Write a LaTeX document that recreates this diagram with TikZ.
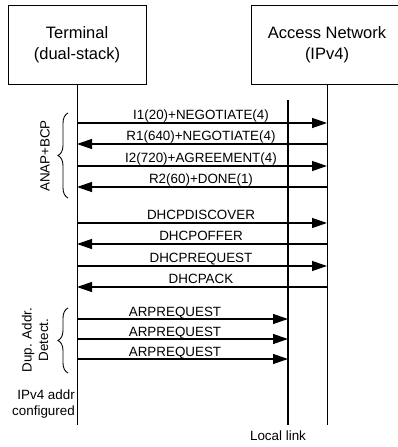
\documentclass[tikz,border=0pt]{standalone}
\usepackage{fontspec}
\setmainfont{Liberation Sans}
\usetikzlibrary{arrows.meta,decorations.pathreplacing}
\begin{document}
\begin{tikzpicture}[x=1pt,y=-1pt,
 box/.style={draw,line width=0.9pt,minimum width=138pt,minimum height=79pt,inner sep=0pt,align=center,font=\fontsize{16.5}{21}\selectfont},
 life/.style={line width=0.9pt},
 loclink/.style={line width=1.6pt},
 msg/.style={line width=1.3pt,-{Triangle[length=15pt,width=10pt]}},
 lbl/.style={anchor=base,font=\fontsize{13.4}{16}\selectfont,inner sep=0pt},
 side/.style={font=\fontsize{13.4}{16.5}\selectfont,align=center,inner sep=0pt},
 brc/.style={decorate,decoration={brace,amplitude=10pt},line width=0.9pt}
]
\useasboundingbox (0,0) rectangle (398,447);
\node[box] (term) at (77,44.5) {Terminal\\(dual-stack)};
\node[box,minimum width=152pt] (acc) at (327,44.5) {Access Network\\(IPv4)};
% lifelines
\coordinate (tend) at (77,425);
\coordinate (aend) at (327,425);
\coordinate (ltop) at (288,100);
\coordinate (lbot) at (288,425);
\draw[life] (term.south) -- (tend);
\draw[life] (acc.south) -- (aend);
\draw[loclink] (ltop) -- (lbot);
\node[lbl] (loclbl) at (278,440) {Local link};
% ANAP+BCP
\coordinate (t1) at (77,123); \coordinate (a1) at (327,123);
\coordinate (t2) at (77,144); \coordinate (a2) at (327,144);
\coordinate (t3) at (77,166); \coordinate (a3) at (327,166);
\coordinate (t4) at (77,187); \coordinate (a4) at (327,187);
\draw[msg] (t1) -- (a1);
\draw[msg] (a2) -- (t2);
\draw[msg] (t3) -- (a3);
\draw[msg] (a4) -- (t4);
\node[lbl] (m1) at (201,119) {I1(20)+NEGOTIATE(4)};
\node[lbl] (m2) at (201,140) {R1(640)+NEGOTIATE(4)};
\node[lbl] (m3) at (201,162) {I2(720)+AGREEMENT(4)};
\node[lbl] (m4) at (201,183) {R2(60)+DONE(1)};
% DHCP
\coordinate (t5) at (77,223); \coordinate (a5) at (327,223);
\coordinate (t6) at (77,244); \coordinate (a6) at (327,244);
\coordinate (t7) at (77,266); \coordinate (a7) at (327,266);
\coordinate (t8) at (77,287); \coordinate (a8) at (327,287);
\draw[msg] (t5) -- (a5);
\draw[msg] (a6) -- (t6);
\draw[msg] (t7) -- (a7);
\draw[msg] (a8) -- (t8);
\node[lbl] (m5) at (201,219) {DHCPDISCOVER};
\node[lbl] (m6) at (201,240) {DHCPOFFER};
\node[lbl] (m7) at (201,262) {DHCPREQUEST};
\node[lbl] (m8) at (201,283) {DHCPACK};
% ARP
\coordinate (t9) at (77,319); \coordinate (l9) at (288,319);
\coordinate (t10) at (77,339); \coordinate (l10) at (288,339);
\coordinate (t11) at (77,359); \coordinate (l11) at (288,359);
\draw[msg] (t9) -- (l9);
\draw[msg] (t10) -- (l10);
\draw[msg] (t11) -- (l11);
\node[lbl] (m9) at (175,316) {ARPREQUEST};
\node[lbl] (m10) at (175,336) {ARPREQUEST};
\node[lbl] (m11) at (175,356) {ARPREQUEST};
% braces
\coordinate (b1s) at (68,198); \coordinate (b1e) at (68,113);
\draw[brc] (b1s) -- (b1e);
\node[side,rotate=90] (anap) at (45,156) {ANAP+BCP};
\coordinate (b2s) at (68,373); \coordinate (b2e) at (68,308);
\draw[brc] (b2s) -- (b2e);
\node[side,rotate=90] (dad) at (35,340) {Dup. Addr.\\Detect.};
\node[side,align=right,anchor=east,font=\fontsize{13.4}{15.5}\selectfont] (cfg) at (75,404) {IPv4 addr\\configured};
\end{tikzpicture}
\end{document}
